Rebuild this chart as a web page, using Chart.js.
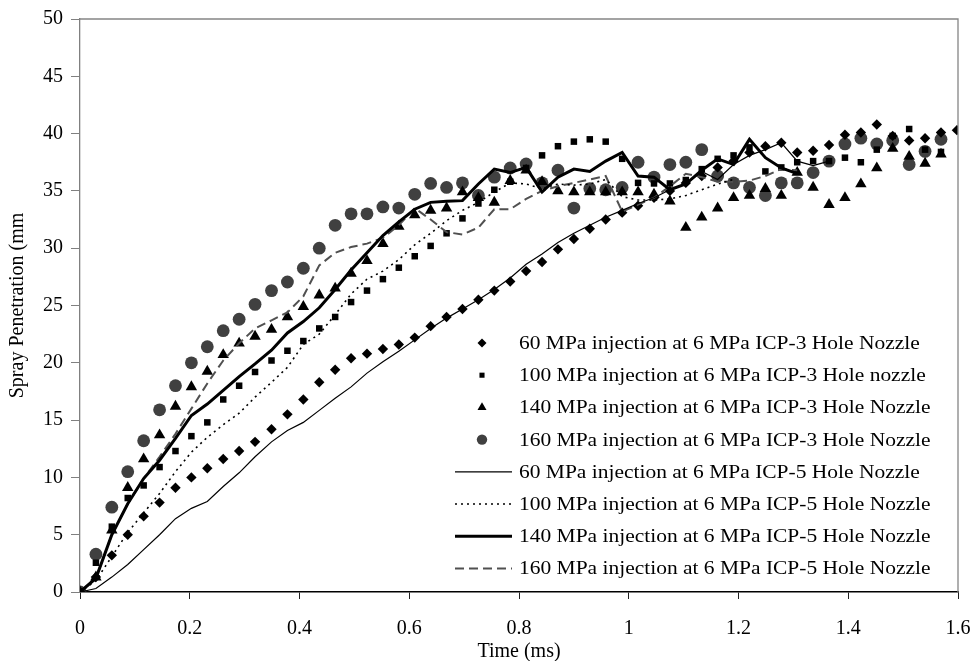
<!DOCTYPE html>
<html lang="en">
<head>
<meta charset="UTF-8">
<title>Spray Penetration vs Time</title>
<script src="https://cdn.jsdelivr.net/npm/chart.js"></script>
<style>
  html, body { margin: 0; padding: 0; background: #fff; }
  #wrap { width: 976px; height: 661px; }
</style>
</head>
<body>
<div id="wrap"><canvas id="sprayChart" width="976" height="661"></canvas></div>
<script>
// time axis (ms), one frame every ~0.029 ms
const times = [0, 0.029, 0.058, 0.087, 0.116, 0.145, 0.174, 0.203, 0.232, 0.261,
  0.290, 0.319, 0.349, 0.378, 0.407, 0.436, 0.465, 0.494, 0.523, 0.552,
  0.581, 0.610, 0.639, 0.668, 0.697, 0.726, 0.755, 0.784, 0.813, 0.842,
  0.871, 0.900, 0.929, 0.958, 0.988, 1.017, 1.046, 1.075, 1.104, 1.133,
  1.162, 1.191, 1.220, 1.249, 1.278, 1.307, 1.336, 1.365, 1.394, 1.423,
  1.452, 1.481, 1.511, 1.540, 1.569, 1.598];

// 3 hole nozzle (markers)
const hole3_60 = [0, 1.3, 3.2, 5.0, 6.6, 7.8, 9.1, 10.0, 10.8, 11.6,
  12.3, 13.1, 14.2, 15.5, 16.8, 18.3, 19.4, 20.4, 20.8, 21.2,
  21.6, 22.2, 23.2, 24.0, 24.7, 25.5, 26.3, 27.1, 28.0, 28.8,
  29.9, 30.8, 31.7, 32.5, 33.1, 33.7, 34.4, 35.0, 35.7, 36.3,
  37.05, 37.6, 38.35, 38.9, 39.2, 38.35, 38.5, 39.0, 39.9, 40.1,
  40.8, 39.8, 39.4, 39.6, 40.1, 40.3];
const hole3_100 = [0, 2.55, 5.7, 8.2, 9.3, 10.9, 12.3, 13.6, 14.8, 16.8,
  18.0, 19.2, 20.2, 21.05, 21.9, 23.0, 24.0, 25.3, 26.3, 27.3,
  28.3, 29.3, 30.2, 31.3, 32.6, 33.9, 35.1, 35.8, 37.0, 38.1,
  38.9, 39.3, 39.5, 39.3, 37.8, 35.7, 35.65, 35.65, 35.95, 36.9,
  37.8, 38.1, 38.8, 36.7, 37.05, 37.5, 37.6, 37.6, 37.9, 37.5,
  38.6, 39.8, 40.4, 38.6, 38.4, null];
const hole3_140 = [0, 1.3, 5.4, 9.1, 11.6, 13.7, 16.2, 17.9, 19.25, 20.7,
  21.7, 22.3, 22.9, 24.0, 24.9, 25.9, 26.5, 27.8, 28.9, 30.4,
  31.9, 32.9, 33.3, 33.5, 34.9, 34.4, 34.0, 35.9, 36.8, 35.8,
  35.0, 34.9, 34.9, 34.9, 34.9, 34.9, 34.7, 34.1, 31.8, 32.7,
  33.5, 34.4, 34.6, 35.2, 34.6, 36.6, 35.3, 33.8, 34.4, 35.6,
  37.0, 38.7, 38.0, 37.4, 38.2, null];
const hole3_160 = [0, 3.3, 7.4, 10.5, 13.2, 15.9, 18.0, 20.0, 21.4, 22.8,
  23.8, 25.1, 26.3, 27.05, 28.25, 30.0, 32.0, 33.0, 33.0, 33.6,
  33.5, 34.7, 35.65, 35.3, 35.7, 34.6, 36.2, 37.0, 37.35, 35.7,
  36.8, 33.5, 35.2, 35.1, 35.3, 37.5, 36.2, 37.3, 37.5, 38.6,
  36.3, 35.7, 35.3, 34.6, 35.7, 35.7, 36.6, 37.6, 39.1, 39.6,
  39.1, 39.4, 37.3, 38.45, 39.5, null];

// 5 hole nozzle (lines)
const hole5_60 = [0, 0.3, 1.3, 2.4, 3.7, 5.0, 6.4, 7.3, 7.9, 9.2,
  10.4, 11.8, 13.1, 14.1, 14.8, 15.85, 16.9, 17.9, 19.1, 20.1,
  21.0, 22.0, 23.0, 23.9, 24.7, 25.5, 26.4, 27.4, 28.6, 29.5,
  30.5, 31.3, 32.0, 32.7, 33.3, 33.9, 34.4, 35.1, 35.6, 36.7,
  36.0, 37.3, 38.1, 38.6, 39.2, 37.6, 37.2, 37.6];
const hole5_100 = [0, 1.0, 3.1, 5.2, 6.9, 8.6, 10.5, 12.2, 13.5, 14.6,
  15.6, 17.0, 18.3, 19.6, 21.6, 22.5, 24.2, 26.0, 27.3, 28.0,
  29.0, 30.3, 31.3, 32.4, 33.3, 34.0, 34.9, 35.7, 35.6, 35.2,
  35.6, 35.5, 35.6, 36.0, 34.5, 34.2, 34.2, 34.3, 34.6, 35.1,
  35.6, 36.0];
const hole5_140 = [0, 1.2, 5.0, 7.7, 9.9, 11.5, 13.4, 15.4, 16.4, 17.6,
  18.8, 19.9, 21.1, 22.6, 23.6, 24.8, 26.4, 28.1, 29.6, 31.1,
  32.3, 33.4, 34.0, 34.1, 34.15, 35.6, 36.9, 36.6, 37.05, 34.9,
  36.2, 36.9, 36.7, 37.6, 38.35, 36.3, 36.2, 35.1, 35.6, 36.8,
  37.8, 37.3, 39.5, 37.9, 37.0, 36.5];
const hole5_160 = [0, 1.2, 5.0, 7.7, 9.9, 11.8, 13.8, 16.0, 18.2, 20.2,
  21.7, 23.0, 23.7, 24.4, 25.8, 28.5, 29.6, 30.1, 30.4, 30.9,
  32.0, 33.5, 32.5, 31.4, 31.2, 31.8, 33.4, 33.4, 34.3, 35.0,
  35.4, 35.7, 36.0, 36.3, 33.2, 33.8, 34.4, 35.4, 36.5, 36.2,
  35.8, 35.8, 35.9, 36.3, 36.9, 36.8];

const seriesNames = [
  '60 MPa injection at 6 MPa ICP-3 Hole Nozzle',
  '100 MPa injection at 6 MPa ICP-3 Hole nozzle',
  '140 MPa injection at 6 MPa ICP-3 Hole Nozzle',
  '160 MPa injection at 6 MPa ICP-3 Hole Nozzle',
  '60 MPa injection at 6 MPa ICP-5 Hole Nozzle',
  '100 MPa injection at 6 MPa ICP-5 Hole Nozzle',
  '140 MPa injection at 6 MPa ICP-5 Hole Nozzle',
  '160 MPa injection at 6 MPa ICP-5 Hole Nozzle'
];
const xTickLabels = ['0', '0.2', '0.4', '0.6', '0.8', '1', '1.2', '1.4', '1.6'];
const yTickLabels = ['0', '5', '10', '15', '20', '25', '30', '35', '40', '45', '50'];

const SERIF = '"Liberation Serif", "Times New Roman", serif';

function toPoints(vals) {
    const pts = [];
    vals.forEach((v, i) => { if (v !== null) pts.push({ x: times[i], y: v }); });
    return pts;
}

function markerSet(label, vals, style, radius, color, legendRadius) {
    return {
        label: label, data: toPoints(vals), showLine: false,
        pointStyle: style, pointRadius: radius, pointBackgroundColor: color,
        pointBorderWidth: 0, backgroundColor: color, borderColor: color,
        legendRadius: legendRadius, order: 2
    };
}

function lineSet(label, vals, width, color, dash) {
    return {
        label: label, data: toPoints(vals), showLine: true, pointRadius: 0,
        borderColor: color, borderWidth: width, borderDash: dash,
        tension: 0, fill: false, order: 1
    };
}

// legend drawn inside the plot, lower right
const insideLegend = {
    id: 'insideLegend',
    afterDraw(chart) {
        const ctx = chart.ctx;
        const a = chart.chartArea;
        const x0 = a.left + 375, y0 = a.top + 324, rowH = 32.2;
        chart.data.datasets.forEach((ds, i) => {
            const y = y0 + i * rowH;
            ctx.save();
            if (ds.showLine) {
                ctx.strokeStyle = ds.borderColor;
                ctx.lineWidth = ds.borderWidth;
                ctx.setLineDash(ds.borderDash || []);
                ctx.beginPath();
                ctx.moveTo(x0, y);
                ctx.lineTo(x0 + 57, y);
                ctx.stroke();
            } else {
                ctx.fillStyle = ds.pointBackgroundColor;
                Chart.helpers.drawPoint(ctx, { pointStyle: ds.pointStyle, radius: ds.legendRadius, borderWidth: 0, rotation: 0 }, x0 + 27, y);
            }
            ctx.restore();
            ctx.save();
            ctx.font = '19px ' + SERIF;
            ctx.fillStyle = '#000';
            ctx.textBaseline = 'middle';
            ctx.translate(x0 + 64, y + 1);
            ctx.scale(1.13, 1);
            ctx.fillText(seriesNames[i], 0, 0);
            ctx.restore();
        });
    }
};

// grey frame on top and right of the plot area
const frame = {
    id: 'frame',
    afterDatasetsDraw(chart) {
        const ctx = chart.ctx;
        const a = chart.chartArea;
        ctx.save();
        ctx.strokeStyle = '#858585';
        ctx.lineWidth = 1.3;
        ctx.beginPath();
        ctx.moveTo(a.left, a.top);
        ctx.lineTo(a.right, a.top);
        ctx.lineTo(a.right, a.bottom);
        ctx.stroke();
        ctx.restore();
    }
};

document.addEventListener('DOMContentLoaded', () => {
    const ctx = document.getElementById('sprayChart').getContext('2d');
    new Chart(ctx, {
        type: 'scatter',
        data: {
            datasets: [
                markerSet(seriesNames[0], hole3_60, 'rectRot', 5.2, '#000000', 4.5),
                markerSet(seriesNames[1], hole3_100, 'rect', 4.6, '#000000', 3.6),
                markerSet(seriesNames[2], hole3_140, 'triangle', 6.6, '#000000', 5.2),
                markerSet(seriesNames[3], hole3_160, 'circle', 6.4, '#404040', 5.2),
                lineSet(seriesNames[4], hole5_60, 1.2, '#000000', []),
                lineSet(seriesNames[5], hole5_100, 1.6, '#000000', [2, 4]),
                lineSet(seriesNames[6], hole5_140, 3, '#000000', []),
                lineSet(seriesNames[7], hole5_160, 2, '#505050', [9, 5])
            ]
        },
        options: {
            responsive: false,
            devicePixelRatio: 1,
            animation: false,
            layout: { padding: { top: 19, right: 18, left: 0, bottom: 0 } },
            plugins: {
                legend: { display: false },
                tooltip: { enabled: false }
            },
            scales: {
                x: {
                    type: 'linear', min: 0, max: 1.6,
                    afterFit: (s) => { s.height = 69; s.paddingLeft = 0; s.paddingRight = 0; },
                    afterBuildTicks: (s) => { s.ticks = xTickLabels.map(t => ({ value: parseFloat(t) })); },
                    ticks: {
                        callback: (v, i) => xTickLabels[i],
                        font: { family: SERIF, size: 20 }, color: '#000', padding: 18, maxRotation: 0
                    },
                    grid: { drawOnChartArea: false, drawTicks: true, tickLength: 7, color: '#202020' },
                    border: { display: true, color: '#000', width: 1.5 },
                    title: { display: true, text: 'Time (ms)', font: { family: SERIF, size: 20 }, color: '#000', padding: { top: 0, bottom: -3 } }
                },
                y: {
                    type: 'linear', min: 0, max: 50,
                    afterFit: (s) => { s.width = 80; s.paddingTop = 0; s.paddingBottom = 0; },
                    afterBuildTicks: (s) => { s.ticks = yTickLabels.map(t => ({ value: parseFloat(t) })); },
                    ticks: {
                        callback: (v, i) => yTickLabels[i],
                        font: { family: SERIF, size: 20 }, color: '#000', padding: 8
                    },
                    grid: { drawOnChartArea: false, drawTicks: true, tickLength: 9, color: '#808080' },
                    border: { display: true, color: '#808080', width: 1.3 },
                    title: { display: true, text: 'Spray Penetration (mm', font: { family: SERIF, size: 20 }, color: '#000', padding: { top: 6, bottom: 0 } }
                }
            }
        },
        plugins: [frame, insideLegend]
    });
});
</script>
</body>
</html>
